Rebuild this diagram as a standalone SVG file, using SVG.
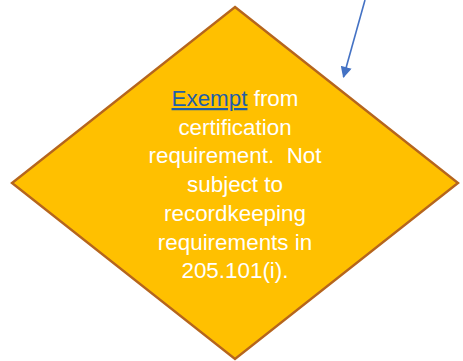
<svg xmlns="http://www.w3.org/2000/svg" width="463" height="361" viewBox="0 0 463 361">
  <style>
    .shape { fill: #FFC000; stroke: #B5651D; stroke-width: 2.4; stroke-linejoin: miter; }
    .label { font-family: "Liberation Sans", Arial, sans-serif; font-size: 22.4px; fill: #FFFFFF; text-anchor: middle; white-space: pre; }
    .link { fill: #1F5EA8; text-decoration: underline; }
    .conn { stroke: #4472C4; stroke-width: 1.6; fill: none; }
  </style>
  <defs>
    <marker id="arrow" viewBox="0 0 10 10" refX="9" refY="5" markerWidth="7.5" markerHeight="7" markerUnits="strokeWidth" orient="auto">
      <path d="M0,0 L10,5 L0,10 Z" fill="#4472C4"/>
    </marker>
  </defs>
  <g id="connectors">
    <line class="conn" x1="365" y1="0" x2="343.5" y2="77" marker-end="url(#arrow)"/>
  </g>
  <g id="node-exempt">
    <polygon class="shape" points="235,7 458,183 235,359 12,183"/>
    <text class="label" xml:space="preserve"><tspan x="235" y="106"><tspan class="link">Exempt</tspan> from</tspan><tspan x="235" y="134.5">certification</tspan><tspan x="235" y="163">requirement.  Not</tspan><tspan x="235" y="192">subject to</tspan><tspan x="235" y="221">recordkeeping</tspan><tspan x="235" y="249.5">requirements in</tspan><tspan x="235" y="278">205.101(i).</tspan></text>
  </g>
</svg>
